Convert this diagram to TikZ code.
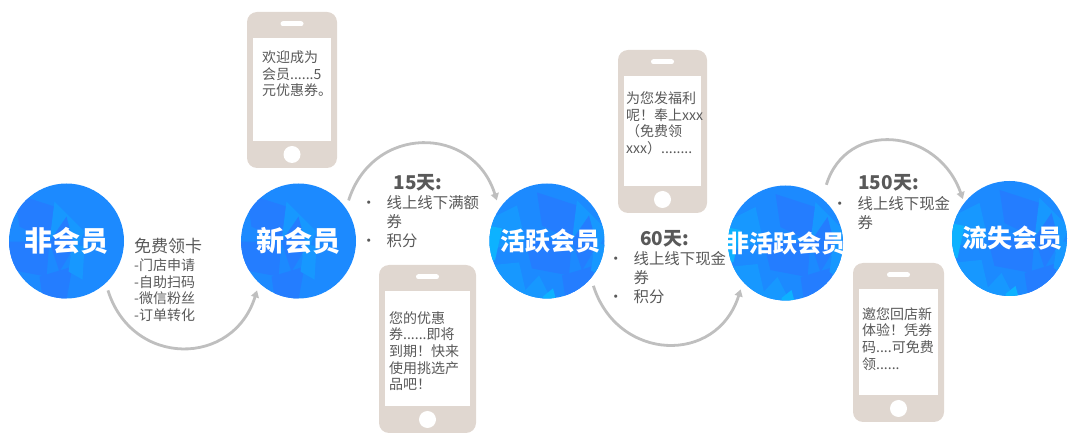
\documentclass[tikz,border=0pt]{standalone}
\usepackage{fontspec}
\setmainfont{Noto Sans CJK SC}
\usetikzlibrary{arrows.meta}

\definecolor{phonecol}{HTML}{E0D7D0}
\definecolor{textcol}{HTML}{595959}
\definecolor{arccol}{HTML}{BFBFBF}
\definecolor{blueA}{HTML}{1C8AFF}
\definecolor{blueB}{HTML}{247DFF}
\definecolor{blueC}{HTML}{1798FF}
\definecolor{blueD}{HTML}{0DB2FF}

\newcommand{\facets}{%
    \begin{scope}[shift={(path picture bounding box.center)}]
        \fill[blueB] (-10,-58) -- (30,-45) -- (25,-10) -- (-5,-25) -- cycle;
        \fill[blueC] (-60,-30) -- (-30,-45) -- (-22,-10) -- (-60,0) -- cycle;
        \fill[blueD] (-60,-25) -- (-45,-22) -- (-52,10) -- (-60,10) -- cycle;
        \fill[blueC] (30,-50) -- (60,-20) -- (48,5) -- (25,-10) -- cycle;
        \fill[blueB] (-22,-10) -- (25,-10) -- (22,25) -- (-15,18) -- cycle;
        \fill[blueB] (25,-10) -- (42,-35) -- (50,-5) -- (35,20) -- cycle;
        \fill[blueC] (-58,15) -- (-28,12) -- (-18,55) -- (-40,45) -- cycle;
        \fill[blueD] (-60,12) -- (-50,22) -- (-44,40) -- (-58,30) -- cycle;
        \fill[blueC] (-8,25) -- (10,60) -- (-15,60) -- (-22,40) -- cycle;
        \fill[blueD] (-4,46) -- (6,38) -- (12,60) -- (-2,60) -- cycle;
        \fill[blueB] (15,25) -- (48,15) -- (42,48) -- (18,45) -- cycle;
        \fill[blueC] (48,-8) -- (60,-5) -- (58,28) -- (44,20) -- cycle;
    \end{scope}}

\tikzset{
    member/.style={circle,minimum size=115pt,inner sep=0pt,outer sep=7pt,fill=blueA,text=white,path picture={\facets}},
    flowline/.style={arccol,line width=2.8pt,-{Triangle[length=7pt,width=8pt]}},
    smalltext/.style={text=textcol,inner sep=0pt,anchor=north west,align=left,font=\fontsize{14}{16.7}\selectfont},
    daytext/.style={text=textcol,inner sep=0pt,font=\fontsize{19}{22}\selectfont\bfseries},
    listtext/.style={text=textcol,inner sep=0pt,anchor=north west,font=\fontsize{15.4}{19}\selectfont}
}

\newcommand{\bullist}[1]{\begin{tabular}{@{}p{25.5pt}@{}l@{}}#1\end{tabular}}

\begin{document}
\begin{tikzpicture}[x=1pt,y=-1pt]
    \useasboundingbox (0,0) rectangle (1080,443);
    % phones: left/top/right/bottom
    \foreach \l/\t/\r/\b in {247/12/337/168, 379/265/476/433, 618/50/707/213, 853/263/944/422}{
        \fill[phonecol,rounded corners=10pt] (\l,\t) rectangle (\r,\b);
        \fill[white] (\l+6,\t+26) rectangle (\r-6,\b-27);
        \draw[white,line width=5pt,line cap=round] ({(\l+\r)/2-9},\t+12) -- ({(\l+\r)/2+9},\t+12);
        \fill[white] ({(\l+\r)/2},\b-13.5) circle (8.5);
    }
    \node[member,font=\fontsize{28}{30}\selectfont\bfseries] (A) at (66.5,241) {非会员};
    \node[member,font=\fontsize{28}{30}\selectfont\bfseries] (B) at (298.5,241) {新会员};
    \node[member,font=\fontsize{25}{28}\selectfont\bfseries] (C) at (547,241) {\makebox[0pt]{\hspace{7pt}活跃会员}};
    \node[member,font=\fontsize{24}{28}\selectfont\bfseries] (D) at (785.5,243) {\makebox[0pt]{非活跃会员}};
    \node[member,font=\fontsize{25}{28}\selectfont\bfseries] (E) at (1009.5,238.5) {\makebox[0pt]{\hspace{5pt}流失会员}};
    \draw[flowline] (A.-50) .. controls +(24,77) and +(-24,77) .. (B.-130);
    \draw[flowline] (B.39) .. controls +(24,-76) and +(-24,-76) .. (C.141);
    \draw[flowline] (C.-44) .. controls +(24,76) and +(-24,76) .. (D.-134);
    \draw[flowline,shorten <=7pt,shorten >=-4pt] (D.53) .. controls +(22,-72) and +(-24,-68) .. (E.138);
    \node[text=textcol,inner sep=0pt,anchor=west,font=\fontsize{17}{20}\selectfont] (F) at (134,246) {免费领卡};
    \node[smalltext] (G) at (134,258.5) {-门店申请\\-自助扫码\\-微信粉丝\\-订单转化};
    \node[smalltext] (P) at (262,50.5) {欢迎成为\\会员......5\\元优惠券。};
    \node[smalltext] (Q) at (389,311) {您的优惠\\券......即将\\到期！快来\\使用挑选产\\品吧！};
    \node[smalltext] (R) at (626,91.5) {为您发福利\\呢！奉上xxx\\（免费领\\xxx）........};
    \node[smalltext] (S) at (862,307) {邀您回店新\\体验！凭券\\码....可免费\\领......};
    \node[daytext] (H) at (418,183) {15天:};
    \node[daytext] (I) at (664.5,239) {60天:};
    \node[daytext] (J) at (888.5,183) {150天:};
    \node[listtext] (K) at (361,195.5) {\bullist{•&线上线下满额\\&券\\•&积分}};
    \node[listtext] (L) at (608,251.5) {\bullist{•&线上线下现金\\&券\\•&积分}};
    \node[listtext] (M) at (832,196.5) {\bullist{•&线上线下现金\\&券}};
\end{tikzpicture}
\end{document}
